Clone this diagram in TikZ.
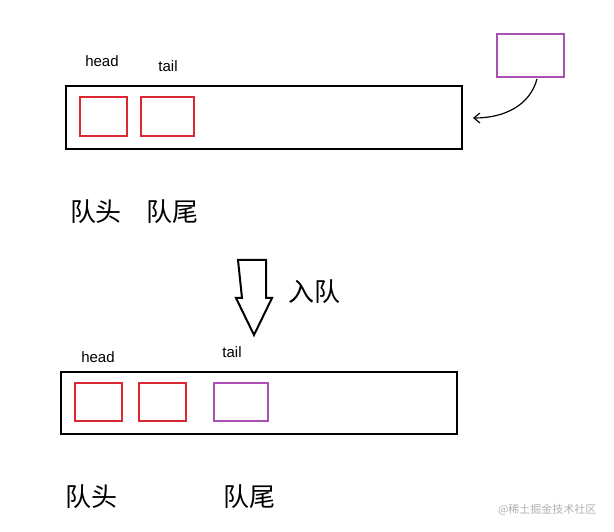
\documentclass[tikz,border=0pt]{standalone}
\usetikzlibrary{arrows.meta}
\usepackage{fontspec}
\setmainfont{Liberation Sans}
\newfontfamily\cjk{Noto Sans CJK SC}
\definecolor{qred}{RGB}{220,40,50}
\definecolor{qpurple}{RGB}{170,80,180}
\begin{document}
\begin{tikzpicture}[x=1pt,y=-1pt,
  queue/.style={draw=black,line width=2pt},
  redbox/.style={draw=qred,line width=2pt},
  purplebox/.style={draw=qpurple,line width=2pt},
  lbl/.style={font=\fontsize{15}{15}\selectfont},
  cn/.style={font=\cjk\fontsize{26}{26}\selectfont}]
\useasboundingbox (0,0) rectangle (614,532);
\fill[white] (0,0) rectangle (614,532);
% top
\draw[queue] (66,86) rectangle (462,149);
\draw[redbox] (80,97) rectangle (127,136);
\draw[redbox] (141,97) rectangle (194,136);
\draw[purplebox] (497,34) rectangle (564,77);
\coordinate (cs) at (537,79);
\coordinate (ce) at (473,118);
\draw[line width=1.2pt,-{Straight Barb[length=6pt,width=10pt]}] (cs) .. controls (530,105) and (505,118) .. (ce);
\node[lbl] (h1) at (102,61) {head};
\node[lbl] (t1) at (168,66) {tail};
\node[cn] (qh1) at (96,212) {队头};
\node[cn] (qt1) at (172,212) {队尾};
% hollow arrow
\draw[line width=2pt,fill=white] (238,260) -- (266,260) -- (266,298) -- (272,298) -- (254,335) -- (236,298) -- (242,298) -- cycle;
\node[cn] (rd) at (314,292) {入队};
% bottom
\draw[queue] (61,372) rectangle (457,434);
\draw[redbox] (75,383) rectangle (122,421);
\draw[redbox] (139,383) rectangle (186,421);
\draw[purplebox] (214,383) rectangle (268,421);
\node[lbl] (h2) at (98,357) {head};
\node[lbl] (t2) at (232,352) {tail};
\node[cn] (qh2) at (91,497) {队头};
\node[cn] (qt2) at (249,497) {队尾};
\node[font=\cjk\fontsize{11}{11}\selectfont,text=gray!60,anchor=east] (wm) at (600,510) {@稀土掘金技术社区};
\end{tikzpicture}
\end{document}
